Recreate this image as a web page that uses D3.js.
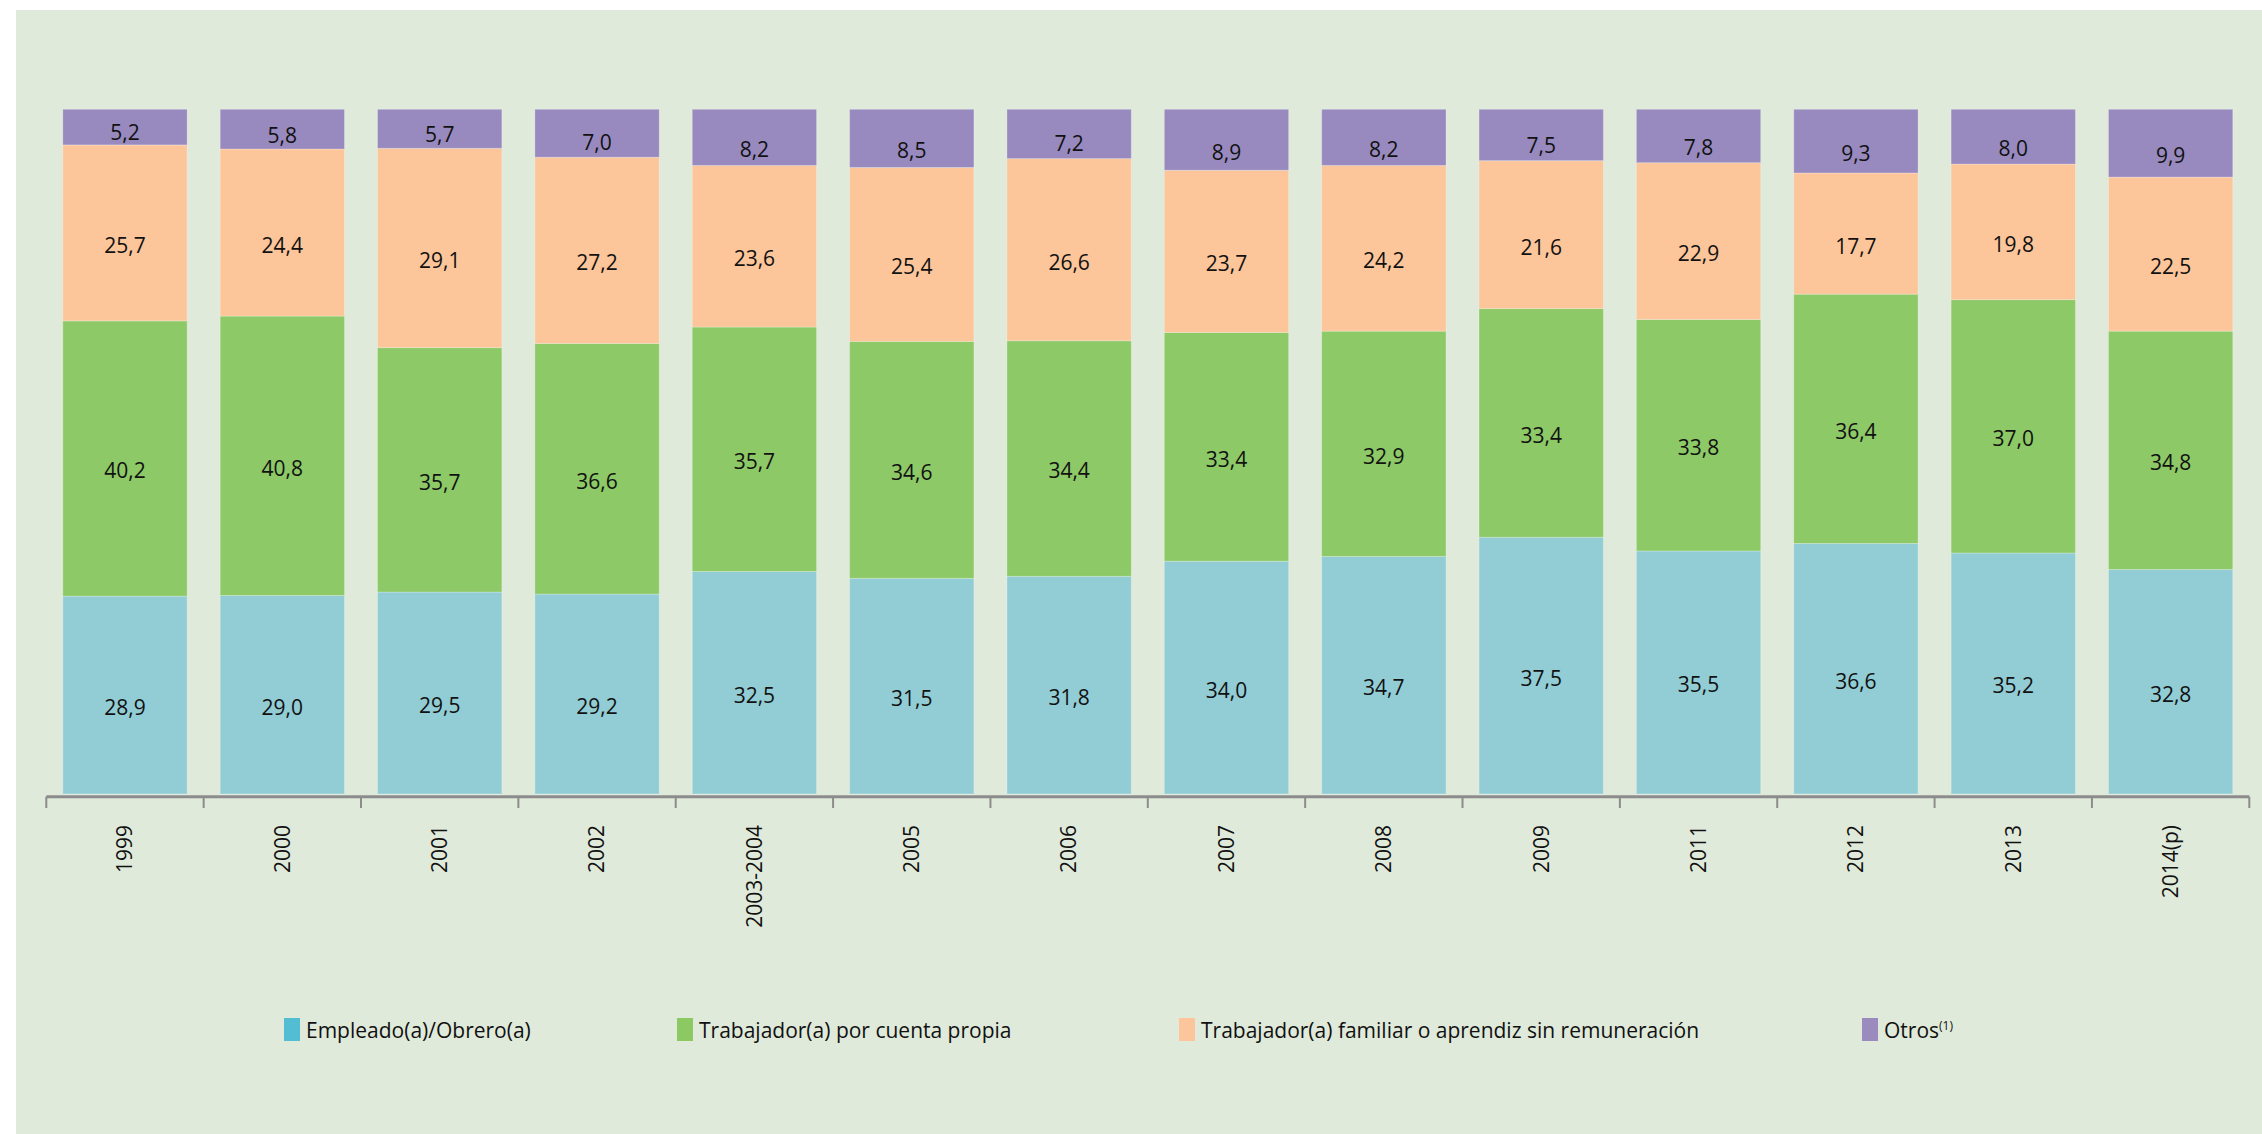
<!DOCTYPE html>
<html>
<head>
<meta charset="utf-8">
<script src="https://cdn.jsdelivr.net/npm/d3@7"></script>
<style>
  body { margin: 0; background: #ffffff; }
  svg { display: block; font-family: "Open Sans", "DejaVu Sans", sans-serif; }
</style>
</head>
<body>
<div id="chart"><svg></svg></div>
<script>
// categories (x axis)
var categories = ["1999", "2000", "2001", "2002", "2003-2004", "2005", "2006",
  "2007", "2008", "2009", "2011", "2012", "2013", "2014(p)"];

// series values, in %
var empleado = [28.9, 29.0, 29.5, 29.2, 32.5, 31.5, 31.8, 34.0, 34.7, 37.5, 35.5, 36.6, 35.2, 32.8];
var cuentaPropia = [40.2, 40.8, 35.7, 36.6, 35.7, 34.6, 34.4, 33.4, 32.9, 33.4, 33.8, 36.4, 37.0, 34.8];
var familiar = [25.7, 24.4, 29.1, 27.2, 23.6, 25.4, 26.6, 23.7, 24.2, 21.6, 22.9, 17.7, 19.8, 22.5];
var otros = [5.2, 5.8, 5.7, 7.0, 8.2, 8.5, 7.2, 8.9, 8.2, 7.5, 7.8, 9.3, 8.0, 9.9];

var seriesKeys = ["empleado", "cuentaPropia", "familiar", "otros"];
var seriesNames = ["Empleado(a)/Obrero(a)", "Trabajador(a) por cuenta propia",
  "Trabajador(a) familiar o aprendiz sin remuneración", "Otros"];

var barColors = ["#92cdd5", "#8dc966", "#fcc59a", "#988abf"];
var legendColors = ["#52bdd3", "#8cc963", "#fdc59b", "#9a8abe"];

var W = 2262, H = 1134;
var svg = d3.select("#chart").select("svg");
svg.attr("width", W).attr("height", H);

// panel
svg.append("rect")
  .attr("x", 16).attr("y", 10)
  .attr("width", W - 16).attr("height", H - 10)
  .attr("fill", "#dfeada");

// build rows for the stack
var rows = categories.map(function (c, i) {
  return {
    cat: c,
    empleado: empleado[i],
    cuentaPropia: cuentaPropia[i],
    familiar: familiar[i],
    otros: otros[i]
  };
});

var stacked = d3.stack().keys(seriesKeys)(rows);

var x = d3.scaleBand().domain(categories).range([46.3, 2249.3]).padding(0);
var y = d3.scaleLinear().domain([0, 100]).range([794, 109.3]);

var barPad = 0.105;
var barW = x.bandwidth() * (1 - 2 * barPad);

var fmt = d3.formatLocale({ decimal: ",", thousands: ".", grouping: [3], currency: ["", ""] }).format(".1f");

var layers = svg.selectAll("g.layer").data(stacked).enter().append("g")
  .attr("class", "layer")
  .attr("fill", function (d, i) { return barColors[i]; });

layers.selectAll("rect").data(function (d) { return d; }).enter().append("rect")
  .attr("x", function (d) { return x(d.data.cat) + x.bandwidth() * barPad; })
  .attr("width", barW)
  .attr("y", function (d) { return y(d[1]); })
  .attr("height", function (d) { return y(d[0]) - y(d[1]); })
  .attr("stroke", "#ffffff")
  .attr("stroke-opacity", 0.25)
  .attr("stroke-width", 1);

// value labels
layers.selectAll("text").data(function (d) { return d; }).enter().append("text")
  .attr("x", function (d) { return x(d.data.cat) + x.bandwidth() / 2; })
  .attr("y", function (d) {
    var h = y(d[0]) - y(d[1]);
    return (y(d[0]) + y(d[1])) / 2 + Math.min(20, h * 0.35);
  })
  .attr("text-anchor", "middle")
  .attr("fill", "#111111")
  .attr("font-size", 21)
  .text(function (d) { return fmt(d[1] - d[0]); });

// x axis
var axisY = 796.7;
var axis = svg.append("g");
axis.append("line")
  .attr("x1", x.range()[0]).attr("x2", x.range()[1])
  .attr("y1", axisY).attr("y2", axisY)
  .attr("stroke", "#8c8c8c").attr("stroke-width", 3);

var tickPos = categories.map(function (c) { return x(c); }).concat([x.range()[1]]);
axis.selectAll("line.tick").data(tickPos).enter().append("line")
  .attr("class", "tick")
  .attr("x1", function (d) { return d; }).attr("x2", function (d) { return d; })
  .attr("y1", axisY).attr("y2", 808)
  .attr("stroke", "#8c8c8c").attr("stroke-width", 2);

axis.selectAll("text").data(categories).enter().append("text")
  .attr("transform", function (d) {
    return "translate(" + (x(d) + x.bandwidth() / 2) + ",825) rotate(-90)";
  })
  .attr("dy", "0.35em")
  .attr("text-anchor", "end")
  .attr("fill", "#111111")
  .attr("font-size", 21)
  .text(function (d) { return d; });

// legend
var legendX = [284, 677, 1179, 1862];
var legend = svg.selectAll("g.legend").data(seriesNames).enter().append("g")
  .attr("class", "legend")
  .attr("transform", function (d, i) { return "translate(" + legendX[i] + ",1018)"; });

legend.append("rect")
  .attr("width", 16).attr("height", 23)
  .attr("fill", function (d, i) { return legendColors[i]; });

var lt = legend.append("text")
  .attr("x", 22).attr("y", 20)
  .attr("fill", "#111111")
  .attr("font-size", 21)
  .text(function (d) { return d; });

lt.filter(function (d, i) { return i === 3; })
  .append("tspan")
  .attr("dy", -8)
  .attr("font-size", 12)
  .text("(1)");
</script>
</body>
</html>
